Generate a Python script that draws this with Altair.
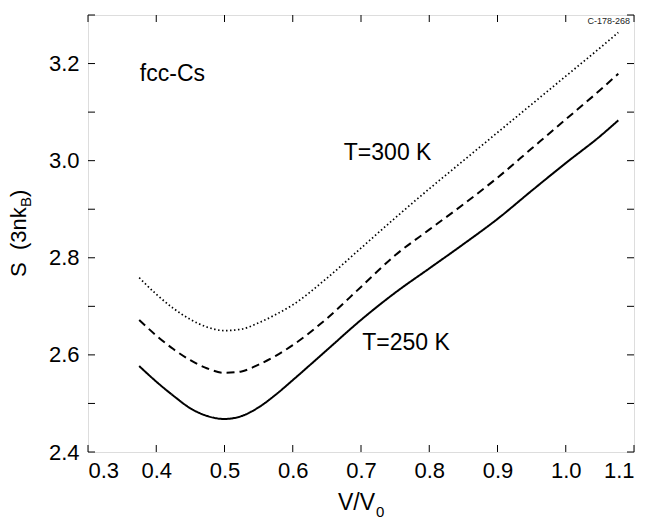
import altair as alt
import pandas as pd

# ---- data ----
v_250 = [0.375, 0.40, 0.425, 0.45, 0.475, 0.50, 0.525, 0.55, 0.575, 0.60, 0.65, 0.70, 0.75, 0.80, 0.85, 0.90, 0.95, 1.00, 1.05, 1.077]
s_250 = [2.577, 2.545, 2.516, 2.490, 2.474, 2.468, 2.474, 2.492, 2.518, 2.548, 2.610, 2.672, 2.728, 2.778, 2.828, 2.880, 2.938, 2.995, 3.050, 3.083]

v_275 = [0.375, 0.40, 0.425, 0.45, 0.475, 0.50, 0.525, 0.55, 0.575, 0.60, 0.65, 0.70, 0.75, 0.80, 0.85, 0.90, 0.95, 1.00, 1.05, 1.077]
s_275 = [2.672, 2.640, 2.612, 2.589, 2.572, 2.563, 2.566, 2.580, 2.598, 2.620, 2.675, 2.740, 2.805, 2.858, 2.910, 2.965, 3.025, 3.085, 3.145, 3.179]

v_300 = [0.375, 0.40, 0.425, 0.45, 0.475, 0.50, 0.525, 0.55, 0.575, 0.60, 0.65, 0.70, 0.75, 0.80, 0.85, 0.90, 0.95, 1.00, 1.05, 1.077]
s_300 = [2.759, 2.725, 2.696, 2.673, 2.657, 2.650, 2.653, 2.666, 2.683, 2.703, 2.758, 2.820, 2.882, 2.942, 3.000, 3.058, 3.116, 3.174, 3.232, 3.264]

x_ticks = [0.3, 0.4, 0.5, 0.6, 0.7, 0.8, 0.9, 1.0, 1.1]
y_ticks = [2.4, 2.5, 2.6, 2.7, 2.8, 2.9, 3.0, 3.1, 3.2, 3.3]
y_labels = [2.4, 2.6, 2.8, 3.0, 3.2]

annotations = ["fcc-Cs", "T=300 K", "T=250 K"]
ann_x = [0.376, 0.739, 0.766]
ann_y = [3.179, 3.016, 2.625]

FONT = "Liberation Sans"
W, H = 546, 437
NB = "\u00a0"

rows = []
for name, vv, ss in [("250", v_250, s_250), ("275", v_275, s_275), ("300", v_300, s_300)]:
    for a, b in zip(vv, ss):
        rows.append({"v": a, "s": b, "series": name})
df = pd.DataFrame(rows)

xs = alt.Scale(domain=[0.3, 1.1], nice=False, zero=False)
ys = alt.Scale(domain=[2.4, 3.3], nice=False, zero=False)

xaxis = alt.Axis(values=x_ticks, format=".1f", ticks=False, domain=False, grid=False,
                 labelFont=FONT, labelFontSize=22, labelColor="black", labelPadding=8, title=None)
yaxis = alt.Axis(values=y_labels, format=".1f", ticks=False, domain=False, grid=False,
                 labelFont=FONT, labelFontSize=22, labelColor="black", labelPadding=9, title=None)

def curve(name, dash, width):
    return alt.Chart(df[df.series == name]).mark_line(
        color="black", strokeWidth=width, strokeDash=dash, interpolate="monotone"
    ).encode(
        x=alt.X("v:Q", scale=xs, axis=xaxis),
        y=alt.Y("s:Q", scale=ys, axis=yaxis),
        order="v:Q",
    )

solid = curve("250", [1, 0], 2)
dashed = curve("275", [8, 5], 2)
dotted = curve("300", [1.5, 2.5], 1.7)

xt = pd.DataFrame({"t": x_ticks})
yt = pd.DataFrame({"t": y_ticks})
TL = 7
xb = alt.Chart(xt).mark_rule(color="black", strokeWidth=1).encode(
    x=alt.X("t:Q", scale=xs), y=alt.value(H), y2=alt.value(H - TL))
xtop = alt.Chart(xt).mark_rule(color="black", strokeWidth=1).encode(
    x=alt.X("t:Q", scale=xs), y=alt.value(0), y2=alt.value(TL))
yl = alt.Chart(yt).mark_rule(color="black", strokeWidth=1).encode(
    y=alt.Y("t:Q", scale=ys), x=alt.value(0), x2=alt.value(TL))
yr = alt.Chart(yt).mark_rule(color="black", strokeWidth=1).encode(
    y=alt.Y("t:Q", scale=ys), x=alt.value(W), x2=alt.value(W - TL))

ann_df = pd.DataFrame({"label": annotations, "x": ann_x, "y": ann_y})
fcc = alt.Chart(ann_df.iloc[[0]]).mark_text(font=FONT, fontSize=23, align="left", baseline="middle", color="black").encode(
    x=alt.X("x:Q", scale=xs), y=alt.Y("y:Q", scale=ys), text="label:N")
temps = alt.Chart(ann_df.iloc[1:]).mark_text(font=FONT, fontSize=23, align="center", baseline="middle", color="black").encode(
    x=alt.X("x:Q", scale=xs), y=alt.Y("y:Q", scale=ys), text="label:N")

one = alt.Data(values=[{}])
code = alt.Chart(one).mark_text(font=FONT, fontSize=9, align="right", baseline="top", color="#222222", text="C-178-268").encode(
    x=alt.value(W - 4), y=alt.value(2))

# axis titles with subscripts
xt1 = alt.Chart(one).mark_text(font=FONT, fontSize=23, align="right", baseline="alphabetic", color="black", text="V/V").encode(
    x=alt.value(287), y=alt.value(495))
xt2 = alt.Chart(one).mark_text(font=FONT, fontSize=15, align="left", baseline="alphabetic", color="black", text="0").encode(
    x=alt.value(288), y=alt.value(502))

yt1 = alt.Chart(one).mark_text(font=FONT, fontSize=22, align="left", baseline="alphabetic", angle=270, color="black",
                               text="S" + NB + NB + "(3nk").encode(x=alt.value(-62), y=alt.value(262))
yt2 = alt.Chart(one).mark_text(font=FONT, fontSize=15, align="left", baseline="alphabetic", angle=270, color="black",
                               text="B").encode(x=alt.value(-57), y=alt.value(192))
yt3 = alt.Chart(one).mark_text(font=FONT, fontSize=22, align="left", baseline="alphabetic", angle=270, color="black",
                               text=")").encode(x=alt.value(-62), y=alt.value(182))

chart = alt.layer(
    solid, dashed, dotted, xb, xtop, yl, yr, fcc, temps, code, xt1, xt2, yt1, yt2, yt3
).properties(
    width=W, height=H,
    autosize=alt.AutoSizeParams(type="none"),
    padding={"left": 80, "top": 7, "right": 8, "bottom": 66},
).configure_view(stroke="black", strokeWidth=1.2).configure(background="white")

chart.save("out.html", embed_options={"renderer": "svg", "actions": False})
